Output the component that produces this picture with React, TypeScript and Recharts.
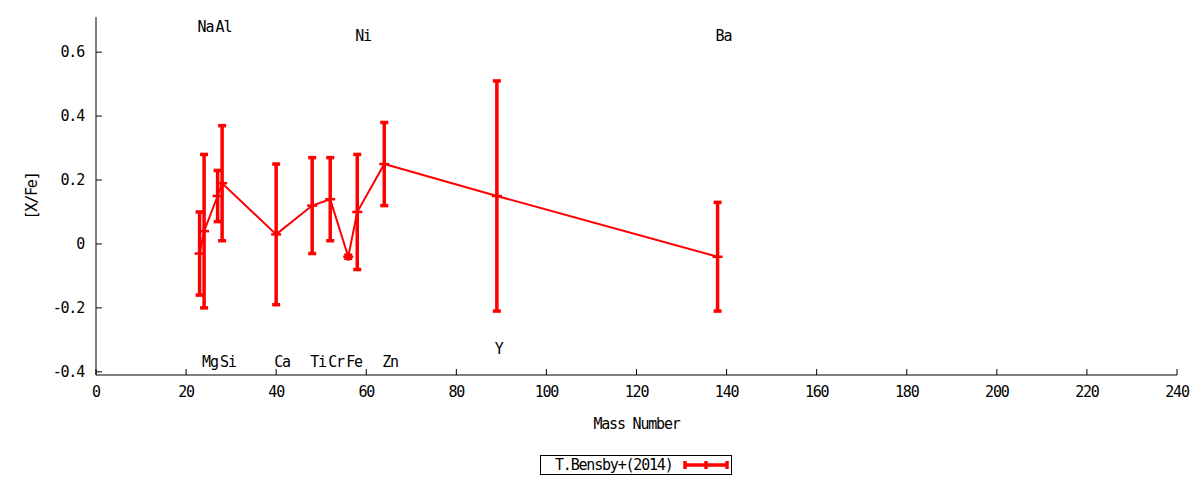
import React from "react"
import { ComposedChart, Line, Scatter, XAxis, YAxis, ErrorBar, Legend, Label } from "recharts"

// mass number, [X/Fe] and error per element (T.Bensby+ 2014)
const elements = ["Na", "Mg", "Al", "Si", "Ca", "Ti", "Cr", "Fe", "Ni", "Zn", "Y", "Ba"]
const massNumbers = [23, 24, 27, 28, 40, 48, 52, 56, 58, 64, 89, 138]
const xFe = [-0.03, 0.04, 0.15, 0.19, 0.03, 0.12, 0.14, -0.04, 0.1, 0.25, 0.15, -0.04]
const xFeErr = [0.13, 0.24, 0.08, 0.18, 0.22, 0.15, 0.13, 0.005, 0.18, 0.13, 0.36, 0.17]

// element label placement (mass number, y in data units)
const labelNames = ["Na", "Al", "Ni", "Ba", "Mg", "Si", "Ca", "Ti", "Cr", "Fe", "Zn", "Y"]
const labelX = [23, 27, 58, 138, 24, 28, 40, 48, 52, 56, 64, 89]
const labelY = [0.68, 0.68, 0.65, 0.65, -0.37, -0.37, -0.37, -0.37, -0.37, -0.37, -0.37, -0.33]

const xTicks = [0, 20, 40, 60, 80, 100, 120, 140, 160, 180, 200, 220, 240]
const yTicks = [-0.4, -0.2, 0, 0.2, 0.4, 0.6]

const seriesName = "T.Bensby+(2014)"

const data = massNumbers.map((a, i) => ({ a, v: xFe[i], e: xFeErr[i], el: elements[i] }))
const labels = labelNames.map((name, i) => ({ a: labelX[i], v: labelY[i], name }))

const FONT = "DejaVu Sans Mono"
const FS = 15
const LS = -1.2
const RED = "#ff0000"
const tickStyle = { fill: "#000", fontSize: FS, fontFamily: FONT, letterSpacing: LS }

function PlusDot(props: any) {
  const { cx, cy } = props
  if (cx == null || cy == null) return null
  return (
    <g>
      <line x1={cx - 5} x2={cx + 5} y1={cy} y2={cy} stroke={RED} strokeWidth={2.5} />
      <line x1={cx} x2={cx} y1={cy - 4} y2={cy + 4} stroke={RED} strokeWidth={2.5} />
    </g>
  )
}

function ElementLabel(props: any) {
  const { cx, cy, payload } = props
  return (
    <text
      x={cx - 2}
      y={cy}
      dominantBaseline="central"
      fontFamily={FONT}
      fontSize={FS}
      letterSpacing={LS}
      fill="#000"
    >
      {payload.name}
    </text>
  )
}

function KeyBox() {
  return (
    <div
      style={{
        width: 190,
        height: 18,
        border: "1px solid #000",
        display: "flex",
        alignItems: "center",
        fontFamily: FONT,
        fontSize: FS,
        background: "#fff",
      }}
    >
      <span style={{ marginLeft: 14, width: 128, letterSpacing: LS }}>{seriesName}</span>
      <svg width={46} height={18}>
        <line x1={2} x2={44} y1={9} y2={9} stroke={RED} strokeWidth={3.5} />
        <line x1={2} x2={2} y1={5} y2={13} stroke={RED} strokeWidth={3.5} />
        <line x1={44} x2={44} y1={5} y2={13} stroke={RED} strokeWidth={3.5} />
        <line x1={23} x2={23} y1={5} y2={13} stroke={RED} strokeWidth={3.5} />
      </svg>
    </div>
  )
}

export default function App() {
  return (
    <div style={{ position: "absolute", left: 0, top: 0, background: "#fff" }}>
      <ComposedChart width={1200} height={480} margin={{ top: 17, right: 23, bottom: 75, left: 36 }}>
        <XAxis
          xAxisId="b"
          type="number"
          dataKey="a"
          domain={[0, 240]}
          ticks={xTicks}
          allowDataOverflow
          height={30}
          tickSize={-6}
          tickMargin={17}
          tick={tickStyle}
          stroke="#000"
        >
          <Label
            content={({ viewBox }: any) => (
              <text
                x={viewBox.x + viewBox.width / 2}
                y={viewBox.y + 49}
                textAnchor="middle"
                dominantBaseline="central"
                fontFamily={FONT}
                fontSize={FS}
                letterSpacing={LS}
                fill="#000"
              >
                Mass Number
              </text>
            )}
          />
        </XAxis>
        <XAxis
          xAxisId="t"
          type="number"
          orientation="top"
          domain={[0, 240]}
          ticks={xTicks}
          allowDataOverflow
          height={0}
          tickSize={-6}
          tick={false}
          stroke="#000"
        />
        <YAxis
          yAxisId="l"
          type="number"
          domain={[-0.41, 0.71]}
          ticks={yTicks}
          allowDataOverflow
          width={60}
          tickSize={-6}
          tickMargin={18}
          tick={tickStyle}
          stroke="#000"
        >
          <Label
            content={({ viewBox }: any) => (
              <text
                x={viewBox.x - 4}
                y={viewBox.y + viewBox.height / 2}
                transform={`rotate(-90 ${viewBox.x - 4} ${viewBox.y + viewBox.height / 2})`}
                textAnchor="middle"
                dominantBaseline="central"
                fontFamily={FONT}
                fontSize={FS}
                letterSpacing={LS}
                fill="#000"
              >
                [X/Fe]
              </text>
            )}
          />
        </YAxis>
        <YAxis
          yAxisId="r"
          type="number"
          orientation="right"
          domain={[-0.41, 0.71]}
          ticks={yTicks}
          allowDataOverflow
          width={0}
          tickSize={-6}
          tick={false}
          stroke="#000"
        />
        <Line
          xAxisId="b"
          yAxisId="l"
          data={data}
          dataKey="v"
          name={seriesName}
          type="linear"
          stroke={RED}
          strokeWidth={2}
          dot={<PlusDot />}
          activeDot={false}
          isAnimationActive={false}
        >
          <ErrorBar dataKey="e" direction="y" width={4} stroke={RED} strokeWidth={3.5} isAnimationActive={false} />
        </Line>
        <Scatter
          xAxisId="b"
          yAxisId="l"
          data={labels}
          dataKey="v"
          shape={<ElementLabel />}
          legendType="none"
          isAnimationActive={false}
        />
        <Legend
          layout="horizontal"
          verticalAlign="middle"
          align="center"
          content={() => <KeyBox />}
          wrapperStyle={{ position: "absolute", left: 540, top: 455, width: 192, height: 20 }}
        />
      </ComposedChart>
    </div>
  )
}
